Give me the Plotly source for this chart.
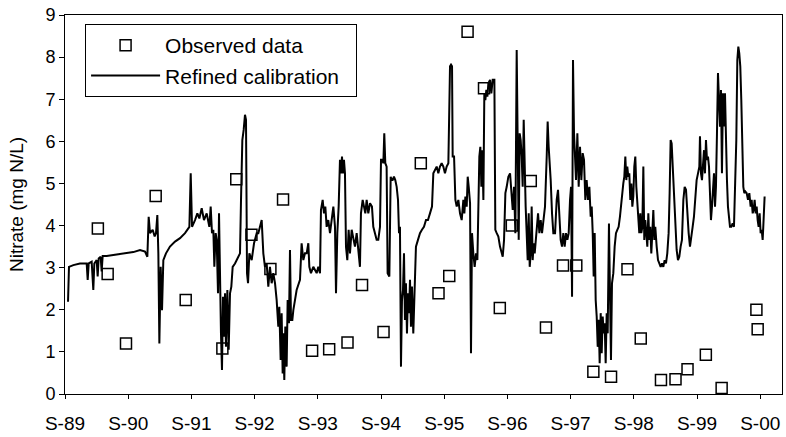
import plotly.graph_objects as go

# Observed nitrate samples (decimal year, mg N/L)
obs_year = [1990.186, 1990.341, 1990.631, 1991.101, 1991.576, 1992.156, 1992.376, 1992.616,
            1992.916, 1993.116, 1993.576, 1993.846, 1994.136, 1994.366, 1994.706, 1995.296,
            1995.576, 1995.746, 1996.036, 1996.296, 1996.546, 1996.736, 1997.036, 1997.276,
            1997.546, 1997.756, 1998.026, 1998.306, 1998.566, 1998.776, 1999.096, 1999.326,
            1999.516, 1999.806, 2000.056, 2000.606, 2000.626]
obs_nitrate = [3.93, 2.85, 1.20, 4.70, 2.23, 1.08, 5.10, 3.78,
               2.97, 4.62, 1.03, 1.06, 1.22, 2.59, 1.47, 5.48,
               2.39, 2.80, 8.60, 7.26, 2.04, 4.00, 5.06, 1.58,
               3.05, 3.05, 0.53, 0.41, 2.96, 1.32, 0.33, 0.35,
               0.59, 0.93, 0.14, 2.00, 1.54]

# Simulated nitrate, refined calibration (decimal year, mg N/L)
sim_year = [
    1989.714, 1989.729, 1989.798, 1989.903, 1990.009, 1990.025, 1990.041, 1990.088, 1990.114, 1990.130,
    1990.167, 1990.183, 1990.199, 1990.230, 1990.246, 1990.262, 1990.325, 1990.431, 1990.536, 1990.642,
    1990.747, 1990.853, 1990.932, 1990.969, 1990.990, 1991.011, 1991.053, 1991.085, 1991.106, 1991.127,
    1991.143, 1991.159, 1991.180, 1991.201, 1991.222, 1991.264, 1991.327, 1991.407, 1991.486, 1991.565,
    1991.634, 1991.655, 1991.676, 1991.723, 1991.760, 1991.792, 1991.829, 1991.865, 1991.908, 1991.950,
    1991.971, 1991.992, 1992.013, 1992.029, 1992.050, 1992.066, 1992.087, 1992.103, 1992.119, 1992.134,
    1992.150, 1992.166, 1992.182, 1992.198, 1992.213, 1992.235, 1992.256, 1992.277, 1992.298, 1992.319,
    1992.356, 1992.409, 1992.435, 1992.451, 1992.472, 1992.493, 1992.514, 1992.530, 1992.546, 1992.562,
    1992.583, 1992.620, 1992.657, 1992.699,
    1992.725, 1992.778, 1992.804, 1992.830, 1992.857, 1992.883, 1992.909, 1992.936, 1992.962, 1992.989,
    1993.015, 1993.041, 1993.057, 1993.078, 1993.094, 1993.110, 1993.120, 1993.136, 1993.152, 1993.173,
    1993.189, 1993.210, 1993.226, 1993.242, 1993.263, 1993.279, 1993.305, 1993.331, 1993.384, 1993.410,
    1993.437, 1993.463, 1993.490, 1993.516, 1993.532, 1993.558, 1993.595, 1993.648, 1993.674, 1993.701,
    1993.716, 1993.743, 1993.764, 1993.785, 1993.806, 1993.832, 1993.859, 1993.885, 1993.912, 1993.938,
    1993.954, 1993.975, 1993.996, 1994.017, 1994.033, 1994.049, 1994.064, 1994.080, 1994.096, 1994.112,
    1994.133, 1994.154, 1994.175, 1994.202, 1994.228, 1994.254, 1994.281, 1994.307, 1994.333, 1994.349,
    1994.376, 1994.397, 1994.418, 1994.439, 1994.465, 1994.492, 1994.523, 1994.544, 1994.571, 1994.597,
    1994.623, 1994.650, 1994.666, 1994.687, 1994.703, 1994.718, 1994.734, 1994.755, 1994.771, 1994.798,
    1994.819, 1994.834, 1994.850, 1994.871, 1994.892, 1994.914, 1994.935, 1994.951, 1994.966, 1994.982,
    1994.998, 1995.014, 1995.030, 1995.045, 1995.061, 1995.077, 1995.093, 1995.109, 1995.125, 1995.140,
    1995.156, 1995.177, 1995.198, 1995.219, 1995.251, 1995.283, 1995.314, 1995.346, 1995.378, 1995.409,
    1995.441, 1995.473, 1995.494, 1995.520, 1995.547, 1995.573, 1995.599, 1995.626, 1995.652, 1995.678,
    1995.705,
    1995.732, 1995.758, 1995.774, 1995.790, 1995.800, 1995.822, 1995.843, 1995.864, 1995.890, 1995.916,
    1995.943, 1995.969, 1995.985, 1996.001, 1996.022, 1996.038, 1996.054, 1996.075, 1996.090, 1996.106,
    1996.127, 1996.148, 1996.170, 1996.191, 1996.207, 1996.222, 1996.238, 1996.254, 1996.270, 1996.286,
    1996.301, 1996.317, 1996.333, 1996.349, 1996.365, 1996.391, 1996.412, 1996.433, 1996.460, 1996.475,
    1996.497, 1996.523, 1996.549, 1996.576, 1996.592, 1996.613, 1996.634, 1996.655, 1996.681, 1996.708,
    1996.729, 1996.750, 1996.771, 1996.792, 1996.813, 1996.829, 1996.845, 1996.860, 1996.876, 1996.892,
    1996.908, 1996.924, 1996.940, 1996.955, 1996.971, 1996.987, 1997.003, 1997.019, 1997.035, 1997.050,
    1997.066, 1997.082, 1997.098, 1997.114, 1997.129, 1997.151, 1997.172, 1997.193, 1997.214, 1997.235,
    1997.261, 1997.288, 1997.303, 1997.319, 1997.335, 1997.351, 1997.372, 1997.393, 1997.420, 1997.446,
    1997.467, 1997.488, 1997.509, 1997.530, 1997.551, 1997.572, 1997.594, 1997.615, 1997.636, 1997.657,
    1997.673, 1997.689, 1997.704, 1997.720, 1997.736, 1997.752, 1997.773, 1997.794, 1997.815, 1997.836,
    1997.857, 1997.878, 1997.899, 1997.920, 1997.942, 1997.963, 1997.984, 1998.000, 1998.016, 1998.031,
    1998.047, 1998.063, 1998.079, 1998.095, 1998.110, 1998.126, 1998.142, 1998.158, 1998.174, 1998.190,
    1998.205, 1998.221, 1998.237, 1998.253,
    1998.273, 1998.289, 1998.305, 1998.321, 1998.342, 1998.363, 1998.384, 1998.405, 1998.426, 1998.447,
    1998.469, 1998.484, 1998.500, 1998.516, 1998.532, 1998.548, 1998.563, 1998.579, 1998.595, 1998.611,
    1998.627, 1998.643, 1998.658, 1998.674, 1998.690, 1998.706, 1998.722, 1998.738, 1998.753, 1998.769,
    1998.785, 1998.801, 1998.817, 1998.832, 1998.848, 1998.864, 1998.880, 1998.896, 1998.912, 1998.927,
    1998.943, 1998.959, 1998.975, 1998.991, 1999.006, 1999.028, 1999.049, 1999.070, 1999.091, 1999.112,
    1999.133, 1999.154, 1999.175, 1999.196, 1999.217, 1999.233, 1999.249, 1999.265, 1999.281, 1999.297,
    1999.312, 1999.328, 1999.344, 1999.365, 1999.386, 1999.407, 1999.428, 1999.450, 1999.471, 1999.492,
    1999.513, 1999.534, 1999.555, 1999.576, 1999.597, 1999.618, 1999.639, 1999.660, 1999.682, 1999.703,
    1999.713, 1999.729, 1999.745, 1999.761, 1999.777, 1999.792, 1999.808, 1999.824, 1999.840, 1999.856,
    1999.871, 1999.887, 1999.903, 1999.919, 1999.935, 1999.951, 1999.966, 1999.982, 1999.998, 2000.014,
    2000.030, 2000.045, 2000.061, 2000.077, 2000.093, 2000.109, 2000.125, 2000.140, 2000.156, 2000.172,
    2000.188, 2000.209, 2000.230, 2000.251, 2000.272, 2000.288, 2000.304, 2000.320, 2000.335, 2000.351,
    2000.367, 2000.383, 2000.399, 2000.415, 2000.431, 2000.452, 2000.473, 2000.494, 2000.515, 2000.531,
    2000.547, 2000.562, 2000.578, 2000.594, 2000.610, 2000.626, 2000.641, 2000.657, 2000.673, 2000.689,
    2000.705, 2000.715, 2000.726, 2000.736,
]
sim_nitrate = [
    2.19, 3.02, 3.06, 3.10, 3.10, 2.71, 3.10, 3.14, 2.47, 3.10,
    3.18, 2.79, 3.22, 3.26, 2.91, 3.28, 3.28, 3.30, 3.33, 3.34,
    3.37, 3.42, 3.38, 3.26, 4.21, 3.82, 3.90, 3.74, 3.82, 4.25,
    3.34, 1.20, 3.02, 1.99, 3.18, 3.34, 3.50, 3.62, 3.70, 3.82,
    3.97, 5.24, 3.97, 4.13, 4.29, 4.17, 4.41, 4.13, 4.29, 3.97,
    4.45, 3.82, 3.90, 3.02, 3.82, 3.66, 2.39, 4.29, 2.23, 1.44,
    0.57, 2.31, 1.36, 2.39, 1.12, 2.47, 1.05, 2.39, 2.55, 3.02,
    3.10, 3.26, 3.34, 4.61, 6.03, 6.27, 6.63, 6.51, 2.87, 2.63,
    3.34, 3.18, 3.58, 3.82,
    3.82, 4.13, 3.34, 3.02, 3.10, 2.55, 3.02, 2.63, 2.87, 2.63,
    2.23, 1.60, 2.07, 0.81, 1.92, 0.49, 1.44, 0.33, 1.60, 0.65,
    2.23, 1.68, 3.42, 1.76, 1.76, 1.99, 2.23, 2.47, 2.71, 3.58,
    3.18, 3.34, 3.34, 3.58, 3.02, 2.87, 3.02, 2.87, 3.02, 2.87,
    4.37, 4.61, 4.29, 4.45, 3.97, 4.13, 3.82, 4.21, 4.45, 3.97,
    2.39, 3.82, 4.45, 5.56, 5.24, 5.64, 5.24, 5.56, 5.24, 3.50,
    3.18, 3.90, 3.34, 3.90, 3.66, 3.50, 3.82, 3.34, 3.02, 4.29,
    4.61, 4.45, 4.29, 4.61, 4.29, 4.53, 4.45, 3.97, 3.82, 3.66,
    3.66, 3.97, 5.56, 5.56, 5.48, 6.19, 5.48, 5.40, 2.87, 2.79,
    5.16, 5.08, 5.08, 5.16, 5.08, 4.92, 4.61, 3.82, 3.97, 0.65,
    2.23, 2.47, 3.34, 1.76, 2.63, 1.44, 2.39, 1.92, 2.71, 1.60,
    2.55, 1.44, 2.47, 3.50, 3.66, 3.82, 3.90, 3.97, 4.13, 4.13,
    4.29, 4.45, 5.24, 5.32, 5.40, 5.24, 5.40, 5.48, 5.40, 5.24,
    5.40,
    5.48, 7.78, 7.82, 7.78, 5.64, 5.64, 4.61, 4.45, 4.61, 4.29,
    4.13, 4.61, 4.29, 4.69, 4.45, 5.16, 4.92, 4.53, 0.97, 3.82,
    3.34, 3.02, 3.34, 3.18, 4.45, 5.64, 5.87, 4.92, 5.79, 4.61,
    7.14, 6.98, 7.22, 7.06, 7.38, 7.46, 7.14, 7.46, 7.46, 3.90,
    3.82, 3.74, 3.50, 3.34, 3.26, 3.66, 4.77, 4.92, 5.16, 5.24,
    4.85, 4.37, 4.92, 3.82, 8.17, 4.61, 3.66, 6.19, 6.03, 5.64,
    4.92, 6.51, 4.92, 4.45, 3.82, 3.18, 4.29, 3.02, 3.34, 4.45,
    3.18, 3.58, 3.34, 3.58, 3.82, 4.29, 3.82, 4.13, 3.82, 4.13,
    4.45, 5.64, 6.47, 5.87, 5.56, 5.08, 4.29, 3.82, 3.82, 4.61,
    4.85, 4.29, 3.66, 3.50, 3.82, 3.50, 3.82, 3.66, 3.82, 4.61,
    4.92, 2.31, 7.93, 6.19, 5.40, 5.08, 6.19, 4.92, 5.87, 5.08,
    5.72, 5.56, 4.61, 5.08, 4.61, 4.92, 4.21, 4.45, 3.82, 2.79,
    3.82, 2.23, 1.84, 1.12, 1.76, 0.73, 1.92, 0.97, 1.84, 1.44,
    1.68, 0.73, 1.92, 1.44,
    4.05, 2.39, 0.81, 2.63, 2.87, 3.50, 3.82, 3.90, 3.97, 4.21,
    4.61, 4.77, 5.00, 5.16, 5.64, 5.08, 5.40, 5.16, 5.24, 4.61,
    5.00, 4.45, 4.69, 5.40, 5.64, 4.92, 4.61, 4.13, 3.82, 4.29,
    3.82, 3.97, 5.40, 3.66, 4.13, 3.82, 3.50, 4.29, 3.66, 3.97,
    3.34, 3.82, 4.37, 3.66, 3.97, 3.50, 3.18, 3.10, 3.02, 3.10,
    3.02, 3.18, 3.10, 3.34, 3.82, 4.77, 6.03, 5.95, 5.40, 4.92,
    4.29, 3.82, 3.42, 3.18, 3.26, 3.50, 3.66, 4.61, 4.92, 4.85,
    4.29, 3.82, 3.50, 3.82, 3.97, 4.21, 4.61, 5.08, 5.24, 5.40,
    6.12, 5.24, 5.08, 5.40, 5.79, 5.24, 6.03, 5.56, 5.64, 5.40,
    4.92, 4.13, 4.45, 4.77, 5.24, 4.45, 4.92, 6.19, 7.62, 6.98,
    6.35, 7.22, 5.24, 7.14, 6.35, 7.14, 5.79, 5.08, 4.45, 4.13,
    3.97, 3.97, 4.05, 3.97, 4.92, 6.03, 7.93, 8.25, 8.09, 7.78,
    6.98, 6.03, 4.92, 4.77, 4.81, 4.77, 4.61, 4.77, 4.45, 4.61,
    4.29, 4.37, 4.61, 4.29, 4.45, 4.13, 3.97, 4.29, 3.82, 3.90,
    3.66, 3.97, 4.45, 4.69,
]

tick_year = [1989.666 + k for k in range(12)]
tick_text = ["S-89", "S-90", "S-91", "S-92", "S-93", "S-94",
             "S-95", "S-96", "S-97", "S-98", "S-99", "S-00"]

FONT = "Liberation Sans, Arial, sans-serif"

fig = go.Figure()
fig.add_trace(go.Scatter(
    x=sim_year, y=sim_nitrate, mode="lines", name="Refined calibration\u00a0\u00a0",
    line=dict(color="black", width=2), legendrank=2,
))
fig.add_trace(go.Scatter(
    x=obs_year, y=obs_nitrate, mode="markers", name="Observed data",
    marker=dict(symbol="square-open", size=11, color="black", line=dict(width=1.5)),
    legendrank=1,
))

fig.update_layout(
    width=786, height=437,
    margin=dict(l=65, r=4, t=15, b=43),
    paper_bgcolor="white", plot_bgcolor="white",
    font=dict(family=FONT, size=18, color="black"),
    showlegend=True,
    legend=dict(
        x=0.028, y=0.976, xanchor="left", yanchor="top",
        bgcolor="white", bordercolor="black", borderwidth=1,
        font=dict(size=21), itemwidth=69, tracegroupgap=0,
    ),
    xaxis=dict(
        range=[1989.666, 2001.011], tickmode="array", tickvals=tick_year, ticktext=tick_text,
        showgrid=False, zeroline=False, showline=True, linecolor="black", linewidth=1,
        mirror=True, ticks="outside", ticklen=4, tickcolor="black",
        ticklabelstandoff=8, tickfont=dict(size=19),
    ),
    yaxis=dict(
        range=[0, 9], dtick=1, showgrid=False, zeroline=False, showline=True,
        linecolor="black", linewidth=1, mirror=True, ticks="outside", ticklen=5,
        tickcolor="black",
        title=dict(text="Nitrate (mg N/L)", font=dict(size=19), standoff=16),
    ),
)

fig.write_html("out.html", config={"displayModeBar": False},
               post_script="document.body.style.margin='0';")
